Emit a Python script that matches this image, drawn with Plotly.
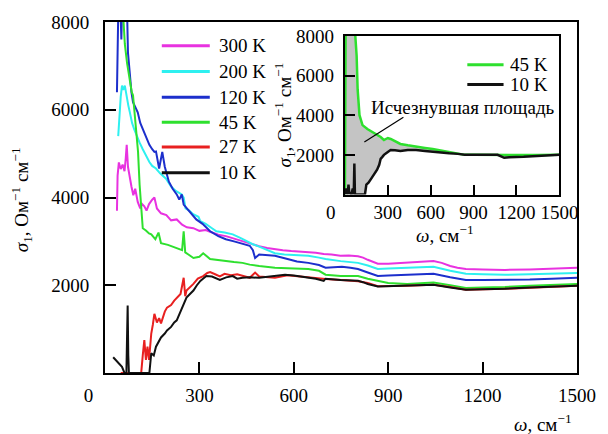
import plotly.graph_objects as go

# ---------------- data ----------------
x300 = [38, 40, 44, 50, 56, 62, 66, 69, 73, 78, 84, 90, 96, 104, 112, 118, 125, 132, 140, 150, 157, 165, 178, 195, 210, 228, 245, 260, 281, 300, 320, 334, 360, 384, 410, 437, 460, 490, 515, 540, 565, 592, 620, 646, 670, 695, 720, 748, 775, 804, 820, 835, 850, 867, 900, 930, 960, 1000, 1044, 1070, 1097, 1120, 1147, 1200, 1271, 1350, 1420, 1500]
y300 = [3700, 4500, 4800, 4650, 4750, 4600, 4900, 5200, 4700, 4450, 4250, 4050, 4200, 3900, 3750, 3850, 3800, 3700, 3850, 3950, 4000, 3750, 3640, 3600, 3480, 3500, 3380, 3320, 3300, 3240, 3260, 3220, 3150, 3120, 3060, 3000, 2950, 2890, 2850, 2820, 2800, 2780, 2770, 2760, 2740, 2710, 2700, 2670, 2680, 2660, 2630, 2580, 2530, 2490, 2490, 2500, 2510, 2530, 2550, 2510, 2440, 2400, 2370, 2360, 2350, 2360, 2380, 2400]

x200 = [42, 46, 50, 54, 58, 63, 68, 74, 79, 86, 93, 100, 110, 120, 130, 141, 150, 162, 175, 194, 210, 225, 244, 250, 256, 268, 280, 297, 303, 320, 340, 354, 380, 406, 430, 450, 468, 490, 515, 540, 570, 600, 646, 680, 701, 749, 780, 804, 835, 867, 900, 960, 1000, 1044, 1097, 1147, 1200, 1271, 1350, 1420, 1500]
y200 = [5400, 6000, 6300, 6550, 6450, 6550, 6300, 6100, 5940, 5700, 5550, 5420, 5250, 5100, 4950, 4810, 4720, 4660, 4550, 4430, 4250, 4150, 4070, 4000, 3750, 3700, 3620, 3560, 3460, 3400, 3300, 3230, 3200, 3160, 3080, 3000, 2940, 2880, 2800, 2730, 2700, 2690, 2670, 2630, 2600, 2550, 2530, 2510, 2450, 2370, 2380, 2400, 2410, 2420, 2330, 2260, 2250, 2240, 2250, 2260, 2280]

x120 = [38, 40, 43, 48, 52, 55, 60, 65, 70, 73, 78, 84, 89, 96, 104, 112, 120, 130, 141, 150, 157, 162, 168, 172, 177, 182, 190, 203, 215, 228, 236, 244, 250, 260, 275, 290, 310, 334, 360, 384, 410, 437, 460, 470, 477, 490, 515, 540, 580, 610, 646, 680, 701, 753, 780, 804, 835, 867, 900, 960, 1000, 1044, 1097, 1147, 1200, 1271, 1350, 1420, 1500]
y120 = [6400, 7200, 8600, 8600, 7600, 8600, 8700, 8600, 8300, 7300, 6800, 6400, 6170, 6050, 5940, 5700, 5560, 5350, 5200, 5100, 5040, 5050, 4800, 4660, 4850, 5040, 4700, 4360, 4200, 4070, 3950, 4070, 3840, 3750, 3610, 3500, 3400, 3230, 3120, 3050, 3000, 2940, 2900, 2800, 2620, 2700, 2690, 2670, 2600, 2540, 2510, 2460, 2400, 2420, 2400, 2370, 2290, 2210, 2220, 2240, 2250, 2260, 2180, 2120, 2120, 2120, 2130, 2150, 2170]

x45 = [55, 58, 63, 70, 78, 85, 89, 95, 100, 105, 110, 114, 116, 120, 130, 140, 147, 160, 170, 178, 200, 228, 245, 250, 255, 265, 281, 300, 312, 334, 360, 384, 410, 437, 460, 490, 515, 540, 580, 620, 646, 680, 701, 749, 804, 835, 867, 900, 960, 1000, 1044, 1097, 1147, 1200, 1271, 1350, 1420, 1500]
y45 = [8500, 7980, 7500, 7070, 6700, 6400, 6330, 5900, 5560, 5040, 4290, 3900, 3610, 3300, 3250, 3180, 3160, 3050, 3200, 2960, 2920, 2850, 2800, 3230, 2750, 2700, 2620, 2650, 2730, 2600, 2570, 2550, 2530, 2510, 2470, 2440, 2420, 2400, 2390, 2380, 2370, 2330, 2240, 2210, 2210, 2150, 2100, 2050, 2030, 2040, 2060, 2000, 1940, 1950, 1960, 1990, 2010, 2030]

x27 = [50, 80, 100, 115, 120, 125, 130, 135, 140, 147, 152, 157, 165, 172, 178, 190, 197, 210, 220, 228, 240, 250, 255, 259, 270, 281, 295, 312, 325, 334, 350, 365, 380, 400, 420, 437, 460, 477, 490, 520, 540, 580, 620, 660, 701, 750, 804, 835, 867, 960, 1044, 1097, 1147, 1271, 1400, 1500]
y27 = [0, 0, 0, 0, 400, 750, 300, 600, 300, 900, 1100, 1350, 1150, 1250, 1130, 1400, 1490, 1550, 1650, 1720, 1800, 2170, 1750, 1880, 1950, 2030, 2150, 2210, 2280, 2300, 2250, 2200, 2260, 2230, 2250, 2210, 2170, 2290, 2200, 2180, 2170, 2230, 2200, 2160, 2140, 2120, 2090, 2050, 1980, 1990, 2010, 1960, 1900, 1920, 1960, 1990]

x10 = [26, 40, 54, 62, 68, 70, 72, 74, 76, 90, 110, 130, 141, 147, 155, 162, 170, 178, 190, 197, 210, 220, 228, 240, 250, 259, 270, 281, 292, 303, 322, 340, 365, 385, 406, 420, 437, 460, 490, 520, 550, 572, 600, 646, 670, 695, 701, 749, 780, 804, 820, 835, 867, 900, 960, 1000, 1044, 1097, 1147, 1200, 1271, 1350, 1420, 1500]
y10 = [360, 250, 140, 0, 0, 800, 1540, 400, 0, 0, 0, 0, 0, 450, 400, 600, 700, 810, 900, 970, 1050, 1150, 1200, 1400, 1550, 1720, 1800, 1880, 2000, 2100, 2210, 2200, 2120, 2180, 2210, 2150, 2170, 2180, 2170, 2200, 2230, 2240, 2220, 2170, 2150, 2100, 2150, 2120, 2110, 2100, 2070, 2030, 1970, 1980, 1990, 2000, 2010, 1950, 1900, 1910, 1920, 1950, 1970, 1990]

# inset
xi45 = [0, 2, 5, 40, 68, 82, 89, 102, 123, 157, 190, 225, 250, 273, 300, 320, 350, 388, 440, 498, 560, 614, 680, 729, 790, 839, 900, 1000, 1068, 1150, 1250, 1350, 1500]
yi45 = [0, 4000, 8500, 8500, 8500, 7000, 5300, 4000, 3500, 3300, 3150, 3000, 2900, 2750, 2850, 2800, 2700, 2550, 2480, 2400, 2350, 2300, 2220, 2150, 2080, 2000, 2010, 2000, 2000, 1980, 1970, 1990, 2000]
xi10 = [0, 10, 20, 25, 30, 45, 55, 62, 66, 70, 80, 100, 140, 150, 165, 184, 205, 225, 240, 250, 262, 273, 300, 320, 350, 388, 440, 498, 560, 614, 680, 729, 790, 839, 900, 1000, 1068, 1114, 1150, 1250, 1350, 1500]
yi10 = [0, 300, 0, 500, 100, 0, 300, 0, 1560, 0, 0, 0, 0, 500, 600, 800, 1000, 1250, 1500, 1800, 1900, 2000, 2150, 2250, 2230, 2200, 2250, 2250, 2200, 2150, 2120, 2080, 2050, 2000, 2000, 2010, 2000, 1850, 1880, 1900, 1950, 2000]

x_ticks = [0, 300, 600, 900, 1200, 1500]
y_ticks = [2000, 4000, 6000, 8000]
main_labels = ["300 K", "200 K", "120 K", "45 K", "27 K", "10 K"]
inset_labels = ["45 K", "10 K"]
area_label = "Исчезнувшая площадь"

colors = ["#e832e0", "#2ef0f0", "#1c2fcc", "#2ee02e", "#e82020", "#111111"]
FONT = "Times New Roman, Liberation Serif, DejaVu Serif, Noto Serif, serif"
W, H = 608, 434
L, R, T, B = 105, 21, 19, 61
PW, PH = W - L - R, H - T - B

def px(x):
    return (x - L) / PW

def py(y):
    return (H - B - y) / PH

fig = go.Figure()
series = [(x300, y300), (x200, y200), (x120, y120), (x45, y45), (x27, y27), (x10, y10)]
for (xs, ys), c, name in zip(series, colors, main_labels):
    fig.add_trace(go.Scatter(x=xs, y=ys, mode="lines", line=dict(color=c, width=2),
                             name=name, showlegend=False, xaxis="x", yaxis="y"))

# inset fill between 45 K and 10 K
fx = xi45 + xi10[::-1]
fy = yi45 + yi10[::-1]
fig.add_trace(go.Scatter(x=fx, y=fy, fill="toself", fillcolor="#c4c4c4", mode="none",
                         showlegend=False, xaxis="x2", yaxis="y2"))
fig.add_trace(go.Scatter(x=xi45, y=yi45, mode="lines", line=dict(color=colors[3], width=2.5),
                         showlegend=False, xaxis="x2", yaxis="y2"))
fig.add_trace(go.Scatter(x=xi10, y=yi10, mode="lines", line=dict(color=colors[5], width=2.5),
                         showlegend=False, xaxis="x2", yaxis="y2"))

nb = "\u00a0"
axis_common = dict(showline=True, linecolor="black", linewidth=2, mirror=True,
                   ticks="inside", tickcolor="black", tickwidth=2, ticklen=11,
                   showgrid=False, zeroline=False,
                   tickfont=dict(family=FONT, size=19, color="black"))

fig.update_layout(
    width=W, height=H,
    margin=dict(l=L, r=R, t=T, b=B),
    paper_bgcolor="white", plot_bgcolor="white",
    font=dict(family=FONT, size=19, color="black"),
    showlegend=False,
    xaxis=dict(range=[0, 1500], domain=[0, 1], tickvals=x_ticks,
               ticktext=["0" + nb * 7] + [str(v) for v in x_ticks[1:]],
               ticklabelstandoff=4, **axis_common),
    yaxis=dict(range=[0, 8000], domain=[0, 1], tickvals=y_ticks,
               ticktext=[str(v) for v in y_ticks], ticklabelstandoff=10, **axis_common),
    xaxis2=dict(range=[0, 1500], domain=[px(350), px(569)], anchor="y2", tickvals=x_ticks,
                ticktext=["0" + nb * 6] + [str(v) for v in x_ticks[1:]],
                ticklabelstandoff=0, **{**axis_common, "ticklen": 10}),
    yaxis2=dict(range=[0, 8000], domain=[py(193), py(33)], anchor="x2", tickvals=y_ticks,
                ticktext=[str(v) for v in y_ticks], ticklabelstandoff=5,
                **{**axis_common, "ticklen": 10}),
)

# pointer line in inset
fig.add_shape(type="line", xref="x2", yref="y2", x0=136, y0=2650, x1=409, y1=3900,
              line=dict(color="black", width=1.2))

ann = []
# main legend
rows = [43, 69, 95, 120, 145, 171]
for yy, c, name in zip(rows, colors, main_labels):
    fig.add_shape(type="line", xref="paper", yref="paper", x0=px(163), x1=px(212),
                  y0=py(yy), y1=py(yy), line=dict(color=c, width=3))
    ann.append(dict(x=px(219), y=py(yy), xref="paper", yref="paper", text=name,
                    xanchor="left", yanchor="middle", showarrow=False,
                    font=dict(family=FONT, size=19, color="black")))
# inset legend
for yy, c, name in zip([62, 82], [colors[3], colors[5]], inset_labels):
    fig.add_shape(type="line", xref="paper", yref="paper", x0=px(475), x1=px(512),
                  y0=py(yy), y1=py(yy), line=dict(color=c, width=3))
    ann.append(dict(x=px(517), y=py(yy), xref="paper", yref="paper", text=name,
                    xanchor="left", yanchor="middle", showarrow=False,
                    font=dict(family=FONT, size=19, color="black")))
ann.append(dict(x=px(471), y=py(105), xref="paper", yref="paper", text=area_label,
                xanchor="center", yanchor="middle", showarrow=False,
                font=dict(family=FONT, size=19, color="black")))
# axis titles
ann.append(dict(x=px(584), y=py(423), xref="paper", yref="paper",
                text="<i>ω</i>, см<sup>−1</sup>", xanchor="right", yanchor="middle",
                showarrow=False, font=dict(family=FONT, size=19, color="black")))
ann.append(dict(x=px(20), y=py(198), xref="paper", yref="paper",
                text="<i>σ</i><sub>1</sub>, Ом<sup>−1</sup> см<sup>−1</sup>", textangle=-90,
                xanchor="center", yanchor="middle", showarrow=False,
                font=dict(family=FONT, size=19, color="black")))
ann.append(dict(x=px(452), y=py(233), xref="paper", yref="paper",
                text="<i>ω</i>, см<sup>−1</sup>", xanchor="center", yanchor="middle",
                showarrow=False, font=dict(family=FONT, size=19, color="black")))
ann.append(dict(x=px(288), y=py(113), xref="paper", yref="paper",
                text="<i>σ</i><sub>1</sub>, Ом<sup>−1</sup> см<sup>−1</sup>", textangle=-90,
                xanchor="center", yanchor="middle", showarrow=False,
                font=dict(family=FONT, size=19, color="black")))
fig.update_layout(annotations=ann)

fig.write_html("out.html")
